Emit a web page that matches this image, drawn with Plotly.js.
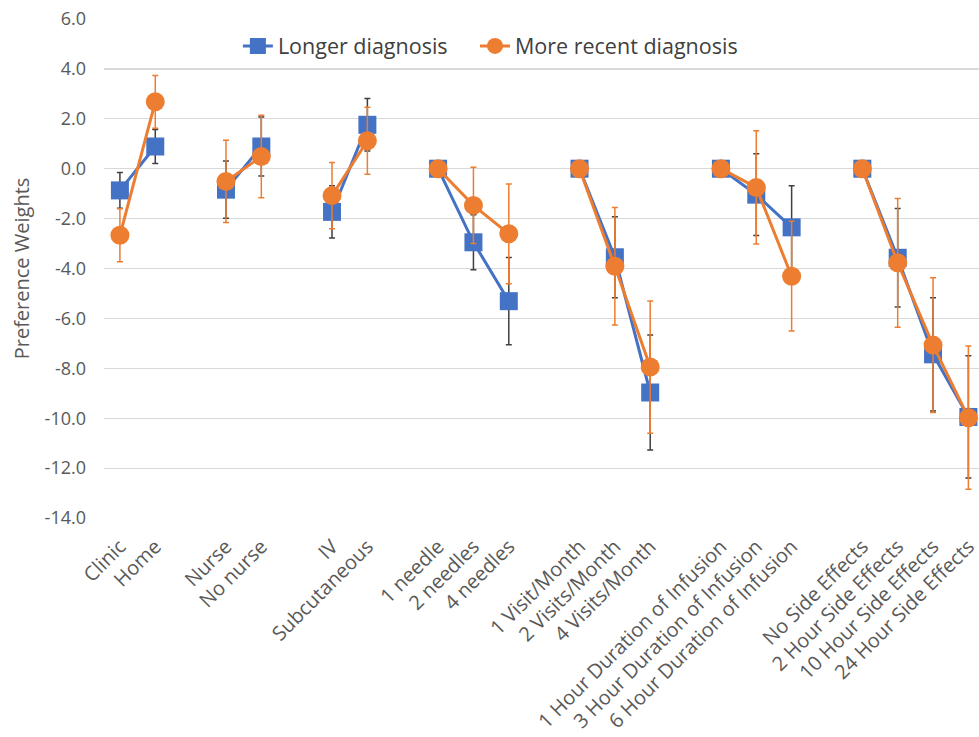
<!DOCTYPE html>
<html>
<head>
<meta charset="utf-8">
<script src="https://cdn.plot.ly/plotly-3.0.1.min.js"></script>
<style>html,body{margin:0;padding:0;background:#fff;}#chart{width:979px;height:737px;}</style>
</head>
<body>
<div id="chart"></div>
<script>
// Categories ("" marks the blank slot between attribute groups)
const categories = ["Clinic","Home","","Nurse","No nurse","","IV","Subcutaneous","",
  "1 needle","2 needles","4 needles","","1 Visit/Month","2 Visits/Month","4 Visits/Month","",
  "1 Hour Duration of Infusion","3 Hour Duration of Infusion","6 Hour Duration of Infusion","",
  "No Side Effects","2 Hour Side Effects","10 Hour Side Effects","24 Hour Side Effects"];

const longerValues = [-0.87, 0.89, null, -0.84, 0.89, null, -1.73, 1.76, null,
  0, -2.95, -5.31, null, 0, -3.55, -8.97, null, 0, -1.04, -2.35, null, 0, -3.57, -7.44, -9.95];
const longerErrors = [0.72, 0.68, null, 1.15, 1.18, null, 1.05, 1.05, null,
  0, 1.1, 1.75, null, 0, 1.62, 2.3, null, 0, 1.64, 1.67, null, 0, 1.97, 2.27, 2.45];

const recentValues = [-2.67, 2.68, null, -0.51, 0.49, null, -1.08, 1.12, null,
  0, -1.47, -2.61, null, 0, -3.91, -7.95, null, 0, -0.75, -4.31, null, 0, -3.77, -7.07, -9.98];
const recentErrors = [1.06, 1.06, null, 1.65, 1.65, null, 1.33, 1.34, null,
  0, 1.53, 2.0, null, 0, 2.35, 2.65, null, 0, 2.27, 2.2, null, 0, 2.58, 2.7, 2.87];

const yTickVals = [6, 4, 2, 0, -2, -4, -6, -8, -10, -12, -14];
const yTickText = ["6.0","4.0","2.0","0.0","-2.0","-4.0","-6.0","-8.0","-10.0","-12.0","-14.0"];

const xIdx = categories.map((c, i) => i);
const tickVals = xIdx.filter(i => categories[i] !== "");
const tickText = tickVals.map(i => categories[i]);

const FONT = "'Open Sans', 'Noto Sans', sans-serif";

const traces = [
  {
    name: "Longer diagnosis", legend: "legend",
    x: xIdx, y: longerValues, type: "scatter", mode: "lines+markers",
    connectgaps: false,
    line: {color: "#4472C4", width: 3},
    marker: {symbol: "square", size: 18, color: "#4472C4"},
    error_y: {type: "data", array: longerErrors, visible: true, color: "#404040", thickness: 1.5, width: 3}
  },
  {
    name: "More recent diagnosis", legend: "legend2",
    x: xIdx, y: recentValues, type: "scatter", mode: "lines+markers",
    connectgaps: false,
    line: {color: "#ED7D31", width: 3},
    marker: {symbol: "circle", size: 19, color: "#ED7D31"},
    error_y: {type: "data", array: recentErrors, visible: true, color: "#ED7D31", thickness: 1.5, width: 3}
  }
];

const legendFont = {size: 21.5, color: "#404040", family: FONT};

const layout = {
  width: 979, height: 737,
  margin: {l: 104, r: 0, t: 19, b: 219},
  paper_bgcolor: "#ffffff", plot_bgcolor: "#ffffff",
  font: {family: FONT, color: "#595959"},
  showlegend: true,
  legend: {
    orientation: "h", x: 0.153, xanchor: "left", y: 0.946, yanchor: "middle",
    font: legendFont, bgcolor: "rgba(255,255,255,0)", itemwidth: 30
  },
  legend2: {
    orientation: "h", x: 0.424, xanchor: "left", y: 0.946, yanchor: "middle",
    font: legendFont, bgcolor: "rgba(255,255,255,0)", itemwidth: 30
  },
  xaxis: {
    type: "linear", range: [-0.45, 24.3],
    tickvals: tickVals, ticktext: tickText, tickangle: -45,
    showgrid: false, zeroline: false, showline: false, ticks: "",
    ticklabeloverflow: "allow", ticklabelstandoff: 12,
    tickfont: {size: 20, color: "#595959", family: FONT}
  },
  yaxis: {
    range: [-14, 6], tickvals: yTickVals, ticktext: yTickText,
    showgrid: true, gridcolor: "#d9d9d9", gridwidth: 1.2,
    zeroline: false, showline: false, ticks: "",
    ticklabelstandoff: 17,
    tickfont: {size: 18, color: "#595959", family: FONT},
    title: {text: "Preference Weights", font: {size: 20, color: "#595959", family: FONT}, standoff: 9}
  }
};

Plotly.newPlot("chart", traces, layout, {displayModeBar: false, staticPlot: true});
</script>
</body>
</html>
